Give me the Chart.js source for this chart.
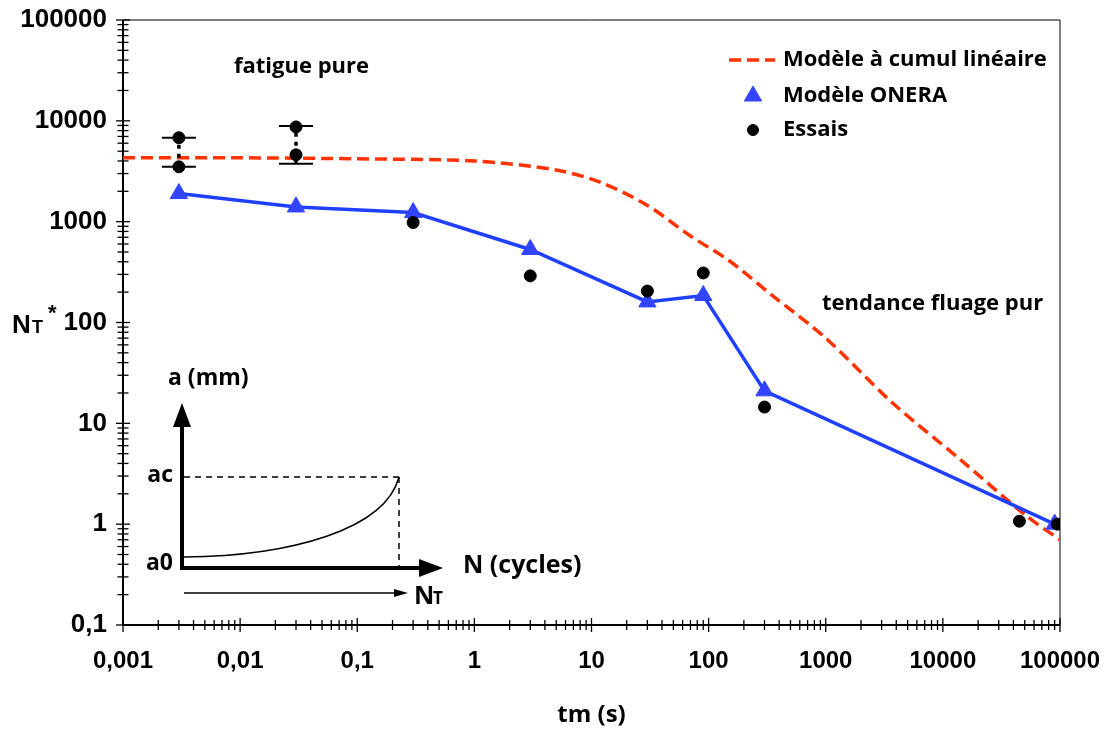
<!DOCTYPE html>
<html lang="fr">
<head>
<meta charset="utf-8">
<title>NT* en fonction de tm</title>
<script src="https://cdn.jsdelivr.net/npm/chart.js@4.4.1/dist/chart.umd.min.js"></script>
<style>
  html, body { margin: 0; padding: 0; background: #fff; }
  #wrap { position: relative; width: 1117px; height: 733px; }
</style>
</head>
<body>
<div id="wrap"><canvas id="graphe"></canvas></div>
<script>
// Modèle à cumul linéaire (courbe rouge en tirets)
const cumulX = [0.001, 0.01, 0.1, 1, 5, 12, 30, 70, 150, 350, 1000, 3700, 14000, 52000, 100000];
const cumulY = [4300, 4300, 4200, 4000, 3250, 2450, 1450, 720, 410, 185, 70, 16, 4.4, 1.2, 0.7];

// Modèle ONERA (triangles bleus)
const oneraX = [0.003, 0.03, 0.3, 3, 30, 90, 300, 90000];
const oneraY = [1900, 1400, 1230, 530, 160, 185, 21, 1];

// Essais
const essaisX = [0.003, 0.003, 0.03, 0.03, 0.3, 3, 30, 90, 300, 45000, 95000];
const essaisY = [6800, 3500, 8700, 4600, 980, 290, 205, 310, 14.5, 1.07, 1.0];

// dispersion des essais en fatigue pure
const dispX = [0.003, 0.03];
const dispMin = [3500, 3750];
const dispMax = [6800, 8900];

const xDecades = [0.001, 0.01, 0.1, 1, 10, 100, 1000, 10000, 100000];
const xTickLabels = ['0,001', '0,01', '0,1', '1', '10', '100', '1000', '10000', '100000'];
const yDecades = [0.1, 1, 10, 100, 1000, 10000, 100000];
const yTickLabels = ['0,1', '1', '10', '100', '1000', '10000', '100000'];

const ROUGE = '#ff3300';
const BLEU = '#2040ff';
const BLEU_TRI = '#3344ff';

function graduations(decades) {
    const vals = [];
    decades.forEach((d, i) => {
        vals.push(d);
        if (i < decades.length - 1) {
            for (let k = 2; k <= 9; k++) vals.push(+(d * k).toPrecision(3));
        }
    });
    return vals;
}

function libelle(decades, labels) {
    return (v) => {
        const i = decades.findIndex(d => Math.abs(Math.log10(d) - Math.log10(v)) < 1e-6);
        return i >= 0 ? labels[i] : '';
    };
}

const pts = (xs, ys) => xs.map((x, i) => ({ x, y: ys[i] }));

// segments pointillés min -> max, séparés par un point vide
const dispLignes = [];
dispX.forEach((x, i) => {
    dispLignes.push({ x, y: dispMin[i] }, { x, y: dispMax[i] });
    if (i < dispX.length - 1) dispLignes.push({ x, y: null });
});
const dispCaps = [...pts(dispX, dispMin), ...pts(dispX, dispMax)];

const FONT_TXT = '"Open Sans", Lato, sans-serif';
const FONT_NUM = '"Liberation Sans", Arial, sans-serif';

function fleche(ctx, x1, y1, x2, y2, w, tete, larg) {
    const ang = Math.atan2(y2 - y1, x2 - x1);
    ctx.lineWidth = w;
    ctx.beginPath();
    ctx.moveTo(x1, y1);
    ctx.lineTo(x2 - Math.cos(ang) * tete * 0.8, y2 - Math.sin(ang) * tete * 0.8);
    ctx.stroke();
    ctx.beginPath();
    ctx.moveTo(x2, y2);
    ctx.lineTo(x2 - Math.cos(ang) * tete - Math.sin(ang) * larg, y2 - Math.sin(ang) * tete + Math.cos(ang) * larg);
    ctx.lineTo(x2 - Math.cos(ang) * tete + Math.sin(ang) * larg, y2 - Math.sin(ang) * tete - Math.cos(ang) * larg);
    ctx.closePath();
    ctx.fill();
}

const decor = {
    id: 'decor',
    beforeDatasetsDraw(chart) {
        const { ctx, chartArea: a, scales } = chart;
        ctx.save();
        ctx.strokeStyle = '#000';
        // cadre
        ctx.lineWidth = 1;
        ctx.beginPath();
        ctx.moveTo(a.left, a.top); ctx.lineTo(a.right, a.top); ctx.lineTo(a.right, a.bottom);
        ctx.stroke();
        ctx.lineWidth = 2;
        ctx.beginPath();
        ctx.moveTo(a.left, a.top); ctx.lineTo(a.left, a.bottom); ctx.lineTo(a.right, a.bottom);
        ctx.stroke();
        // graduations traversantes
        ctx.lineWidth = 1.3;
        scales.x.ticks.forEach(t => {
            const px = scales.x.getPixelForValue(t.value);
            const l = xDecades.includes(t.value) ? 7 : 5;
            ctx.beginPath(); ctx.moveTo(px, a.bottom - l); ctx.lineTo(px, a.bottom + l); ctx.stroke();
        });
        scales.y.ticks.forEach(t => {
            const py = scales.y.getPixelForValue(t.value);
            const l = yDecades.includes(t.value) ? 7 : 5.5;
            ctx.beginPath(); ctx.moveTo(a.left - l, py); ctx.lineTo(a.left + l, py); ctx.stroke();
        });
        ctx.restore();
    },
    afterDatasetsDraw(chart) {
        const { ctx, chartArea: a } = chart;
        const ds = chart.data.datasets;
        ctx.save();
        ctx.fillStyle = '#000';
        ctx.strokeStyle = '#000';
        ctx.textBaseline = 'middle';

        // légende
        const lx = a.left + 630, tx = a.left + 660, ly = [a.top + 40, a.top + 76, a.top + 110];
        ctx.font = 'bold 22px ' + FONT_TXT;
        ds.slice(0, 3).forEach((d, i) => {
            if (i === 0) {
                ctx.save();
                ctx.strokeStyle = d.borderColor;
                ctx.lineWidth = d.borderWidth;
                ctx.setLineDash(d.borderDash);
                ctx.beginPath(); ctx.moveTo(lx - 24, ly[i]); ctx.lineTo(lx + 22, ly[i]); ctx.stroke();
                ctx.restore();
            } else {
                ctx.save();
                ctx.fillStyle = d.pointBackgroundColor;
                ctx.strokeStyle = d.pointBorderColor;
                Chart.helpers.drawPoint(ctx, { pointStyle: d.pointStyle, radius: i === 2 ? 5.5 : d.pointRadius, borderWidth: 1, rotation: 0 }, lx, ly[i]);
                ctx.restore();
            }
            ctx.fillStyle = '#000';
            ctx.fillText(d.label, tx, ly[i]);
        });

        // annotations
        ctx.font = 'bold 22px ' + FONT_TXT;
        ctx.fillText('fatigue pure', a.left + 111, a.top + 47);
        ctx.fillText('tendance fluage pur', a.left + 699, a.top + 284);

        // titre axe vertical NT*
        ctx.textBaseline = 'alphabetic';
        ctx.font = 'bold 26px ' + FONT_NUM;
        ctx.fillText('N', 12, 333);
        ctx.font = 'bold 18px ' + FONT_NUM;
        ctx.fillText('T', 32, 333);
        ctx.font = 'bold 22px ' + FONT_NUM;
        ctx.fillText('*', 48, 320);

        // schéma a(N)
        const ox = 182, oy = 568;
        fleche(ctx, ox, oy + 2, ox, 403, 4, 24, 9);
        fleche(ctx, ox - 2, oy, 443, oy, 4, 24, 9);
        ctx.lineWidth = 1.5;
        ctx.beginPath();
        ctx.moveTo(ox + 2, 557);
        ctx.bezierCurveTo(290, 556, 385, 530, 399, 477);
        ctx.stroke();
        ctx.setLineDash([6, 5]);
        ctx.beginPath();
        ctx.moveTo(ox + 2, 477); ctx.lineTo(399, 477);
        ctx.moveTo(399, 477); ctx.lineTo(399, oy - 2);
        ctx.stroke();
        ctx.setLineDash([]);
        fleche(ctx, ox + 2, 593, 408, 593, 1.5, 14, 4);

        ctx.textBaseline = 'middle';
        ctx.font = 'bold 23px ' + FONT_TXT;
        ctx.fillText('a (mm)', 168, 378);
        ctx.textAlign = 'right';
        ctx.fillText('ac', 173, 475);
        ctx.fillText('a0', 173, 563);
        ctx.textAlign = 'left';
        ctx.font = 'bold 25px ' + FONT_TXT;
        ctx.fillText('N (cycles)', 463, 566);
        ctx.textBaseline = 'alphabetic';
        ctx.font = 'bold 25px ' + FONT_TXT;
        ctx.fillText('N', 414, 604);
        ctx.font = 'bold 17px ' + FONT_TXT;
        ctx.fillText('T', 433, 604);
        ctx.restore();
    }
};

new Chart(document.getElementById('graphe'), {
    type: 'line',
    data: {
        datasets: [
            {
                label: 'Modèle à cumul linéaire',
                data: pts(cumulX, cumulY),
                borderColor: ROUGE,
                borderWidth: 3.5,
                borderDash: [12, 6],
                pointRadius: 0,
                tension: 0.3,
                order: 3
            },
            {
                label: 'Modèle ONERA',
                data: pts(oneraX, oneraY),
                borderColor: BLEU,
                borderWidth: 3.5,
                pointStyle: 'triangle',
                pointRadius: 10,
                pointBackgroundColor: BLEU_TRI,
                pointBorderColor: BLEU_TRI,
                pointBorderWidth: 1,
                tension: 0,
                order: 2
            },
            {
                label: 'Essais',
                data: pts(essaisX, essaisY),
                showLine: false,
                pointStyle: 'circle',
                pointRadius: 6,
                pointBackgroundColor: '#000',
                pointBorderColor: '#000',
                order: 0
            },
            {
                label: 'dispersion',
                data: dispLignes,
                borderColor: '#000',
                borderWidth: 3.5,
                borderDash: [4, 5],
                pointRadius: 0,
                spanGaps: false,
                order: 1
            },
            {
                label: 'bornes',
                data: dispCaps,
                showLine: false,
                pointStyle: 'line',
                pointRadius: 17,
                pointBorderColor: '#000',
                pointBorderWidth: 2,
                order: 1
            }
        ]
    },
    options: {
        responsive: true,
        maintainAspectRatio: false,
        animation: false,
        layout: { padding: { left: 0, top: 20, right: 57, bottom: 0 } },
        plugins: {
            legend: { display: false },
            tooltip: { enabled: false }
        },
        scales: {
            x: {
                type: 'logarithmic',
                min: 0.001,
                max: 100000,
                afterBuildTicks: s => { s.ticks = graduations(xDecades).map(value => ({ value })); },
                afterFit: s => { s.height = 108; s.paddingLeft = 0; s.paddingRight = 0; },
                grid: { display: false, drawTicks: false },
                border: { display: false },
                ticks: {
                    autoSkip: false,
                    maxRotation: 0,
                    padding: 22,
                    color: '#000',
                    font: { family: FONT_NUM, size: 24, weight: 'bold' },
                    callback: libelle(xDecades, xTickLabels)
                },
                title: {
                    display: true,
                    text: 'tm (s)',
                    color: '#000',
                    font: { family: FONT_TXT, size: 24, weight: 'bold' },
                    padding: { top: 0, bottom: 3 }
                }
            },
            y: {
                type: 'logarithmic',
                min: 0.1,
                max: 100000,
                afterBuildTicks: s => { s.ticks = graduations(yDecades).map(value => ({ value })); },
                afterFit: s => { s.width = 123; s.paddingTop = 0; s.paddingBottom = 0; },
                grid: { display: false, drawTicks: false },
                border: { display: false },
                ticks: {
                    autoSkip: false,
                    padding: 16,
                    color: '#000',
                    font: { family: FONT_NUM, size: 26, weight: 'bold' },
                    callback: libelle(yDecades, yTickLabels)
                }
            }
        }
    },
    plugins: [decor]
});
</script>
</body>
</html>
